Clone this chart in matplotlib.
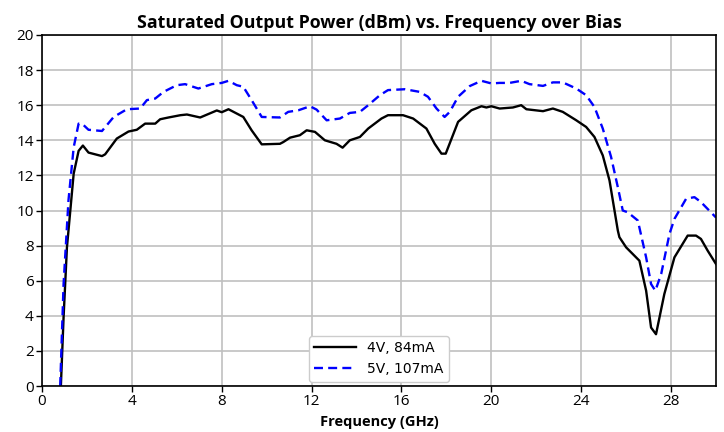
import matplotlib
matplotlib.use("Agg")
import matplotlib.pyplot as plt

freq_4v = [0.84, 0.96, 1.11, 1.26, 1.41, 1.63, 1.82, 2.07, 2.67, 2.81, 3.33, 3.85, 4.22, 4.59, 5.04,
           5.26, 5.63, 6.16, 6.45, 7.04, 7.78, 8.0, 8.3, 8.96, 9.33, 9.78, 10.59, 10.74, 11.04, 11.48,
           11.78, 12.15, 12.59, 13.11, 13.38, 13.7, 14.15, 14.52, 15.11, 15.4, 16.07, 16.52, 17.11,
           17.48, 17.78, 17.97, 18.52, 19.11, 19.56, 19.78, 20.0, 20.37, 20.96, 21.33, 21.56, 22.3,
           22.74, 23.18, 23.78, 24.22, 24.59, 24.96, 25.26, 25.63, 25.70, 26.0, 26.59, 26.89, 27.11,
           27.33, 27.70, 28.15, 28.74, 29.11, 29.33, 29.63, 30.0]
pout_4v = [0.0, 3.9, 7.9, 10.0, 12.1, 13.4, 13.7, 13.3, 13.1, 13.2, 14.1, 14.5, 14.6, 14.95, 14.95,
           15.2, 15.3, 15.43, 15.47, 15.3, 15.7, 15.6, 15.77, 15.33, 14.57, 13.77, 13.8, 13.9, 14.15, 14.29,
           14.57, 14.48, 14.0, 13.8, 13.58, 14.0, 14.19, 14.67, 15.24, 15.43, 15.43, 15.24, 14.67,
           13.8, 13.24, 13.24, 15.05, 15.71, 15.94, 15.87, 15.94, 15.81, 15.87, 16.0, 15.77, 15.66,
           15.81, 15.62, 15.14, 14.76, 14.19, 13.14, 11.71, 8.86, 8.48, 7.9, 7.14, 5.43, 3.33,
           2.95, 5.24, 7.33, 8.57, 8.57, 8.38, 7.71, 6.95]

freq_5v = [0.81, 0.96, 1.18, 1.41, 1.63, 1.78, 2.07, 2.67, 3.19, 3.78, 4.37, 4.67, 5.04, 5.41, 6.0,
           6.37, 6.96, 7.56, 8.0, 8.3, 8.67, 8.96, 9.33, 9.78, 10.59, 10.96, 11.41, 11.93, 12.22,
           12.67, 13.26, 13.7, 14.15, 14.52, 15.04, 15.4, 16.15, 16.81, 17.18, 17.56, 17.92, 18.15,
           18.52, 19.04, 19.56, 20.0, 20.37, 20.81, 21.33, 21.7, 22.3, 22.74, 23.18, 23.78, 24.22,
           24.59, 24.96, 25.33, 25.63, 25.85, 26.07, 26.52, 26.89, 27.11, 27.3, 27.56, 27.93, 28.15,
           28.67, 29.04, 29.33, 30.0]
pout_5v = [0.0, 5.8, 10.6, 13.6, 14.95, 14.95, 14.6, 14.53, 15.33, 15.77, 15.81, 16.29, 16.38, 16.76, 17.14,
           17.2, 16.95, 17.2, 17.27, 17.39, 17.14, 17.05, 16.29, 15.33, 15.3, 15.62, 15.71, 15.94, 15.75,
           15.14, 15.24, 15.56, 15.62, 16.0, 16.57, 16.86, 16.91, 16.76, 16.48, 15.81, 15.33, 15.62,
           16.48, 17.09, 17.39, 17.24, 17.27, 17.27, 17.39, 17.2, 17.1, 17.3, 17.3, 16.95, 16.57,
           15.9, 14.67, 13.05, 11.33, 10.0, 9.9, 9.43, 7.33, 5.81, 5.43, 6.38, 8.67, 9.52,
           10.67, 10.76, 10.48, 9.6]

labels = ["4V, 84mA", "5V, 107mA"]
title = "Saturated Output Power (dBm) vs. Frequency over Bias"
xlabel = "Frequency (GHz)"
xticks = [0, 4, 8, 12, 16, 20, 24, 28]
yticks = [0, 2, 4, 6, 8, 10, 12, 14, 16, 18, 20]

fig = plt.figure(figsize=(7.24, 4.32), dpi=100)
ax = fig.add_axes([42/724, 1 - 386/432, (716-42)/724, (386-35)/432])

ax.plot(freq_4v, pout_4v, color="black", lw=1.7, label=labels[0])
ax.plot(freq_5v, pout_5v, color="blue", lw=1.7, ls=(0, (3.8, 2.2)), label=labels[1])

ax.set_xlim(0, 30)
ax.set_ylim(0, 20)
ax.set_xticks(xticks)
ax.set_yticks(yticks)
tick_fam = ["Open Sans", "DejaVu Sans"]
for lab in ax.get_xticklabels() + ax.get_yticklabels():
    lab.set_family(tick_fam)
    lab.set_fontsize(11)
ax.tick_params(direction="out", length=4, width=1, pad=2)
ax.grid(True, color="#c0c0c0", lw=1.2)
ax.set_axisbelow(True)
for s in ax.spines.values():
    s.set_linewidth(1.2)

ax.set_title(title, fontsize=12.8, fontweight="bold", family=["Open Sans", "DejaVu Sans"], pad=5)
ax.set_xlabel(xlabel, fontsize=10.5, fontweight="bold", family=["Open Sans", "DejaVu Sans"], labelpad=4)

leg = ax.legend(loc="lower center", bbox_to_anchor=(0.5, 0.0), fontsize=10,
                handlelength=3, framealpha=1, edgecolor="#cccccc", borderaxespad=0.3)

fig.savefig("out.png", dpi=100)
